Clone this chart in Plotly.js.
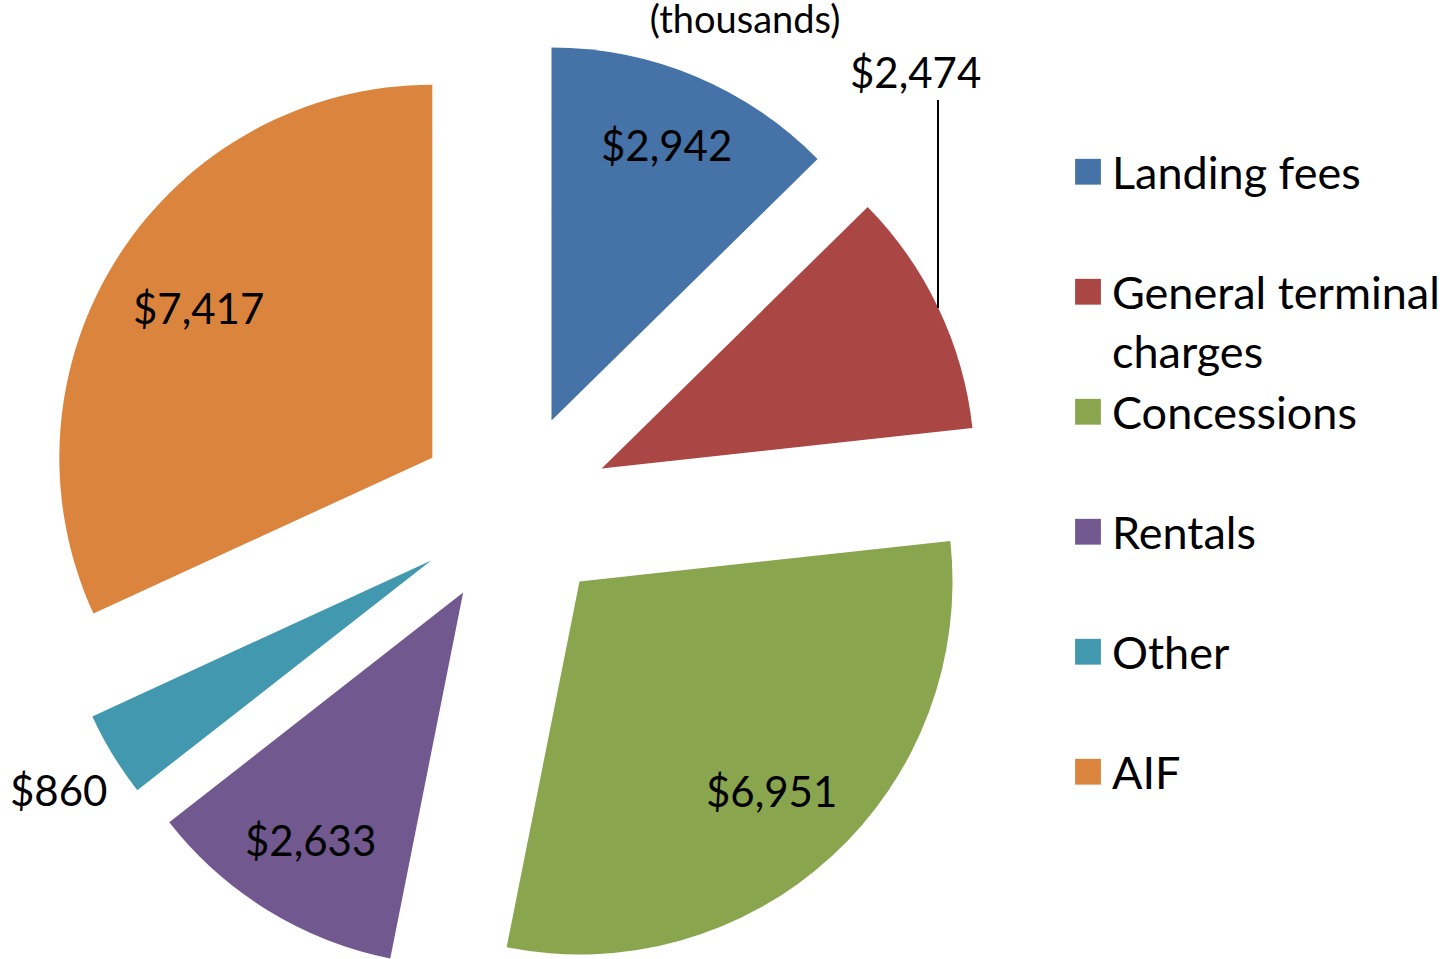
<!DOCTYPE html>
<html>
<head>
<meta charset="utf-8">
<script src="https://cdn.plot.ly/plotly-3.0.1.min.js"></script>
<style>
html, body { margin:0; padding:0; overflow:hidden; background:#fff; }
#chart { width:1444px; height:1000px; }
</style>
</head>
<body>
<div id="chart"></div>
<script>
const categories = ['Landing fees', 'General terminal<br>charges', 'Concessions', 'Rentals', 'Other', 'AIF'];
const revenue = [2942, 2474, 6951, 2633, 860, 7417];
const colors = ['#4572A7', '#AA4643', '#89A54E', '#71588F', '#4198AF', '#DB843D'];
const insideLabel = [true, false, true, true, false, true];

const W = 1444, H = 1000, MT = 40, MB = 20;
const DOM_X = [44, 984];
const PULL = 0.26;
const LABEL_SIZE = 42;
const px = x => x / W;
const py = y => 1 - (y - MT) / (H - MT - MB);
const fmt = v => '$' + v.toLocaleString('en-US');

// pie geometry as plotly computes it
const boxW = DOM_X[1] - DOM_X[0], boxH = H - MT - MB;
const R = Math.min(boxW, boxH) / (2 + 2 * PULL);
const CX = (DOM_X[0] + DOM_X[1]) / 2, CY = MT + boxH / 2;

const canvas = document.createElement('canvas');
const ctx = canvas.getContext('2d');
ctx.font = LABEL_SIZE + 'px Lato';

const total = revenue.reduce((a, b) => a + b, 0);
const annotations = [];
let cum = 0;
revenue.forEach((v, i) => {
  const mid = (cum + v / 2) / total * 2 * Math.PI;
  cum += v;
  if (!insideLabel[i]) return;
  const dx = Math.sin(mid), dy = -Math.cos(mid);
  const hw = ctx.measureText(fmt(v)).width / 2, hh = LABEL_SIZE * 0.6;
  const extent = Math.abs(dx) * hw + Math.abs(dy) * hh;
  const dist = PULL * R + 0.93 * R - extent;
  annotations.push({
    text: fmt(v), x: px(CX + dx * dist), y: py(CY + dy * dist),
    xref: 'paper', yref: 'paper', xanchor: 'center', yanchor: 'middle', showarrow: false,
    font: { size: LABEL_SIZE, color: '#000' }
  });
});
// labels placed outside the slices
annotations.push(
  { text: fmt(revenue[1]), x: px(915), y: py(72), xref: 'paper', yref: 'paper', showarrow: false,
    xanchor: 'center', yanchor: 'middle', font: { size: LABEL_SIZE, color: '#000' } },
  { text: fmt(revenue[4]), x: px(58), y: py(790), xref: 'paper', yref: 'paper', showarrow: false,
    xanchor: 'center', yanchor: 'middle', font: { size: LABEL_SIZE, color: '#000' } }
);

const legendLabels = categories.map(c => c.includes('<br>') ? c : c + '<br> ');

const trace = {
  type: 'pie',
  labels: legendLabels,
  values: revenue,
  sort: false,
  direction: 'clockwise',
  rotation: 0,
  pull: PULL,
  marker: { colors: colors, line: { width: 0 } },
  textinfo: 'none',
  domain: { x: [px(DOM_X[0]), px(DOM_X[1])], y: [0, 1] },
  hoverinfo: 'label+value'
};

const layout = {
  width: W, height: H,
  margin: { l: 0, r: 0, t: MT, b: MB, autoexpand: false },
  paper_bgcolor: '#fff',
  font: { family: 'Lato, sans-serif', color: '#000' },
  title: { text: '(thousands)', x: 745 / W, xanchor: 'center', y: 1 - 20 / H, yanchor: 'middle',
           font: { size: 38, color: '#000' } },
  showlegend: true,
  legend: { x: px(1072), xanchor: 'left', y: py(136), yanchor: 'top',
            font: { size: 45, color: '#000' }, valign: 'top', bgcolor: 'rgba(0,0,0,0)' },
  annotations: annotations,
  shapes: [
    { type: 'line', xref: 'paper', yref: 'paper', x0: px(938), x1: px(938), y0: py(100), y1: py(308),
      line: { color: '#000', width: 2 } }
  ]
};

Plotly.newPlot('chart', [trace], layout, { displayModeBar: false, staticPlot: true }).then(() => {
  document.querySelectorAll('.legend .legendpoints path').forEach(p => {
    const t = p.getAttribute('transform') || '';
    p.setAttribute('transform', t + ' translate(-4,0) scale(2.15)');
  });
});
</script>
</body>
</html>
